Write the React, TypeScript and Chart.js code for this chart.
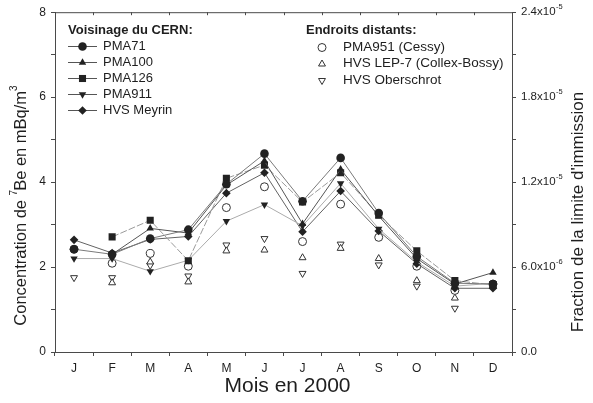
import React, { useEffect, useRef } from 'react';
import { Chart, registerables } from 'chart.js';

Chart.register(...registerables);

const FONT = "'Liberation Sans', Arial, Helvetica, sans-serif";

// ---- Data ----
const months = ['J', 'F', 'M', 'A', 'M', 'J', 'J', 'A', 'S', 'O', 'N', 'D'];

const pma71 = [2.42, 2.30, 2.67, 2.88, 3.95, 4.67, 3.55, 4.57, 3.27, 2.25, 1.62, 1.60];
const pma100 = [null, 2.30, 2.91, 2.80, 3.93, 4.50, 3.02, 4.30, 3.20, 2.20, 1.60, 1.87];
const pma126 = [null, 2.71, 3.10, 2.15, 4.09, 4.40, 3.53, 4.22, 3.22, 2.38, 1.68, 1.58];
const pma911 = [2.20, 2.20, 1.90, 2.16, 3.08, 3.47, 2.97, 3.97, 2.90, 2.12, 1.55, 1.62];
const hvsMeyrin = [2.64, 2.33, 2.65, 2.72, 3.74, 4.22, 2.83, 3.79, 2.85, 2.08, 1.50, 1.50];

const pma951 = [2.42, 2.09, 2.32, 2.02, 3.40, 3.89, 2.60, 3.48, 2.70, 2.02, 1.45, 1.60];
const hvsLep7 = [null, 1.63, 2.12, 1.65, 2.38, 2.40, 2.22, 2.44, 2.20, 1.68, 1.27, 1.55];
const hvsOberschrot = [1.75, 1.75, 2.04, 1.79, 2.52, 2.67, 1.85, 2.54, 2.05, 1.55, 1.03, 1.60];

const leftTickLabels = ['0', '', '2', '', '4', '', '6', '', '8'];
const rightTickBases = ['0.0', '', '6.0x10', '', '1.2x10', '', '1.8x10', '', '2.4x10'];
const rightTickExps = ['', '', '-6', '', '-5', '', '-5', '', '-5'];
const rightAxisMax = 2.4e-5;
const rightAxisStep = 3e-6;

const nearTitle = 'Voisinage du CERN:';
const farTitle = 'Endroits distants:';
const nearNames = ['PMA71', 'PMA100', 'PMA126', 'PMA911', 'HVS Meyrin'];
const farNames = ['PMA951 (Cessy)', 'HVS LEP-7 (Collex-Bossy)', 'HVS Oberschrot'];

const xTitle = 'Mois en 2000';
const rightTitle = "Fraction de la limite d'immission";

// ---- Styles ----
const AXIS = '#4a4a4a';
const INK = '#1e1e1e';
const MARK = '#222222';
const nearStyles = ['circle', 'triangle', 'rect', 'triangleDown', 'rectRot'];
const nearLineColors = ['#7a7a7a', '#555555', '#9a9a9a', '#ababab', '#636363'];
const nearDashes: number[][] = [[], [], [7, 2], [], []];
const farStyles = ['circle', 'triangle', 'triangleDown'];

function drawMarker(ctx: CanvasRenderingContext2D, style: string, x: number, y: number, r: number, filled: boolean) {
  ctx.beginPath();
  if (style === 'circle') {
    ctx.arc(x, y, r, 0, Math.PI * 2);
  } else if (style === 'rect') {
    const s = r * Math.SQRT1_2;
    ctx.rect(x - s, y - s, 2 * s, 2 * s);
  } else if (style === 'rectRot') {
    ctx.moveTo(x, y - r);
    ctx.lineTo(x + r, y);
    ctx.lineTo(x, y + r);
    ctx.lineTo(x - r, y);
    ctx.closePath();
  } else if (style === 'triangle' || style === 'triangleDown') {
    const dir = style === 'triangle' ? 1 : -1;
    const a = Math.PI / 2;
    for (let i = 0; i < 3; i++) {
      const ang = -a * dir + (i * 2 * Math.PI) / 3;
      const px = x + r * Math.cos(ang);
      const py = y + r * Math.sin(ang);
      if (i === 0) ctx.moveTo(px, py);
      else ctx.lineTo(px, py);
    }
    ctx.closePath();
  }
  if (filled) {
    ctx.fillStyle = MARK;
    ctx.fill();
  } else {
    ctx.fillStyle = '#ffffff';
    ctx.fill();
    ctx.strokeStyle = '#333333';
    ctx.lineWidth = 1;
    ctx.stroke();
  }
}

function drawRuns(ctx: CanvasRenderingContext2D, runs: { t: string; sup?: boolean }[], size: number, cx: number, cy: number) {
  const supSize = Math.round(size * 0.62);
  let total = 0;
  const widths = runs.map((r) => {
    ctx.font = `${r.sup ? supSize : size}px ${FONT}`;
    const w = ctx.measureText(r.t).width - (r.sup ? 1 : 0);
    total += w;
    return w;
  });
  let x = cx - total / 2;
  runs.forEach((r, i) => {
    ctx.font = `${r.sup ? supSize : size}px ${FONT}`;
    ctx.fillText(r.t, x, r.sup ? cy - size * 0.4 : cy);
    x += widths[i];
  });
}

const overlayPlugin = {
  id: 'overlay',
  afterDraw(chart: any) {
    const ctx: CanvasRenderingContext2D = chart.ctx;
    const { left, right, top } = chart.chartArea;
    ctx.save();

    // top frame line with small inward ticks
    ctx.strokeStyle = AXIS;
    ctx.lineWidth = 1;
    ctx.beginPath();
    ctx.moveTo(left, top + 0.5);
    ctx.lineTo(right, top + 0.5);
    ctx.stroke();
    const n = months.length;
    for (let i = 1; i < n; i++) {
      const px = Math.round(left + ((right - left) * i) / n) + 0.5;
      ctx.beginPath();
      ctx.moveTo(px, top);
      ctx.lineTo(px, top + 3);
      ctx.stroke();
    }

    // right tick labels with exponents
    const y1 = chart.scales.y1;
    ctx.fillStyle = INK;
    ctx.textBaseline = 'middle';
    ctx.textAlign = 'left';
    rightTickBases.forEach((base, i) => {
      if (!base) return;
      const py = y1.getPixelForValue(i * rightAxisStep);
      ctx.font = `11.5px ${FONT}`;
      const x0 = right + 9;
      ctx.fillText(base, x0, py);
      const w = ctx.measureText(base).width;
      if (rightTickExps[i]) {
        ctx.font = `7.5px ${FONT}`;
        ctx.fillText(rightTickExps[i], x0 + w + 0.5, py - 5);
      }
    });

    // x title
    ctx.font = `21px ${FONT}`;
    ctx.textAlign = 'center';
    ctx.fillText(xTitle, (left + right) / 2 + 4, 386);

    // left title (rotated)
    ctx.save();
    ctx.translate(21, 206);
    ctx.rotate(-Math.PI / 2);
    ctx.textAlign = 'left';
    drawRuns(
      ctx,
      [{ t: 'Concentration de ' }, { t: '7', sup: true }, { t: 'Be en mBq/m' }, { t: '3', sup: true }],
      16.5,
      0,
      0
    );
    ctx.restore();

    // right title (rotated)
    ctx.save();
    ctx.translate(578, 212);
    ctx.rotate(-Math.PI / 2);
    ctx.textAlign = 'center';
    ctx.font = `17px ${FONT}`;
    ctx.fillText(rightTitle, 0, 0);
    ctx.restore();

    // legends
    ctx.textAlign = 'left';
    ctx.textBaseline = 'middle';
    ctx.font = `bold 13px ${FONT}`;
    ctx.fillStyle = INK;
    ctx.fillText(nearTitle, 68, 30);
    const nearY = [46, 62, 78, 94, 110];
    nearNames.forEach((name, i) => {
      const y = nearY[i];
      ctx.strokeStyle = '#555555';
      ctx.lineWidth = 1;
      ctx.setLineDash([]);
      ctx.beginPath();
      ctx.moveTo(68, y + 0.5);
      ctx.lineTo(97, y + 0.5);
      ctx.stroke();
      drawMarker(ctx, nearStyles[i], 82.5, y + 0.5, nearStyles[i] === 'rect' ? 5 : 4.3, true);
      ctx.fillStyle = INK;
      ctx.font = `13px ${FONT}`;
      ctx.fillText(name, 103, y);
    });

    ctx.font = `bold 13px ${FONT}`;
    ctx.fillStyle = INK;
    ctx.fillText(farTitle, 306, 30);
    const farY = [47, 63.5, 80];
    farNames.forEach((name, i) => {
      const y = farY[i];
      drawMarker(ctx, farStyles[i], 322, y + 0.5, 4, false);
      ctx.fillStyle = INK;
      ctx.font = `13.5px ${FONT}`;
      ctx.fillText(name, 343, y);
    });

    ctx.restore();
  },
};

export default function App() {
  const ref = useRef<HTMLCanvasElement | null>(null);

  useEffect(() => {
    if (!ref.current) return;
    Chart.defaults.font.family = FONT;

    const nearData = [pma71, pma100, pma126, pma911, hvsMeyrin];
    const farData = [pma951, hvsLep7, hvsOberschrot];

    const nearSets = nearData.map((d, i) => ({
      label: nearNames[i],
      data: d,
      yAxisID: 'y',
      borderColor: nearLineColors[i],
      borderWidth: 1,
      borderDash: nearDashes[i],
      backgroundColor: MARK,
      pointBackgroundColor: MARK,
      pointBorderColor: MARK,
      pointBorderWidth: 0,
      pointStyle: nearStyles[i] === 'triangleDown' ? 'triangle' : nearStyles[i],
      pointRotation: nearStyles[i] === 'triangleDown' ? 180 : 0,
      pointRadius: nearStyles[i] === 'rect' ? 5 : 4.3,
      showLine: true,
      spanGaps: false,
      tension: 0,
      fill: false,
    }));

    const farSets = farData.map((d, i) => ({
      label: farNames[i],
      data: d,
      yAxisID: 'y',
      showLine: false,
      borderColor: '#333333',
      backgroundColor: '#ffffff',
      pointBackgroundColor: '#ffffff',
      pointBorderColor: '#333333',
      pointBorderWidth: 1,
      pointStyle: farStyles[i] === 'triangleDown' ? 'triangle' : farStyles[i],
      pointRotation: farStyles[i] === 'triangleDown' ? 180 : 0,
      pointRadius: 4,
    }));

    const chart = new Chart(ref.current, {
      type: 'line',
      data: {
        labels: months,
        datasets: [...nearSets, ...farSets] as any,
      },
      options: {
        responsive: false,
        animation: false,
        devicePixelRatio: 1,
        layout: { padding: { top: 12, left: 0, right: 0, bottom: 0 } },
        plugins: {
          legend: { display: false },
          tooltip: { enabled: false },
          title: { display: false },
        },
        scales: {
          x: {
            type: 'category',
            offset: true,
            grid: {
              offset: true,
              drawOnChartArea: false,
              drawTicks: true,
              tickLength: 4,
              color: AXIS,
            },
            border: { color: AXIS, width: 1 },
            ticks: {
              color: INK,
              font: { size: 12, family: FONT },
              padding: 5,
              autoSkip: false,
              maxRotation: 0,
              minRotation: 0,
            },
            afterFit: (s: any) => {
              s.height = 51;
            },
          },
          y: {
            type: 'linear',
            position: 'left',
            min: 0,
            max: 8,
            grid: {
              drawOnChartArea: false,
              drawTicks: true,
              tickLength: 4,
              color: AXIS,
            },
            border: { color: AXIS, width: 1 },
            ticks: {
              stepSize: 1,
              color: INK,
              font: { size: 12, family: FONT },
              padding: 5,
              callback: (_v: any, i: number) => leftTickLabels[i] ?? '',
            },
            afterFit: (s: any) => {
              s.width = 55;
            },
          },
          y1: {
            type: 'linear',
            position: 'right',
            min: 0,
            max: rightAxisMax,
            grid: {
              drawOnChartArea: false,
              drawTicks: true,
              tickLength: 4,
              color: AXIS,
            },
            border: { color: AXIS, width: 1 },
            ticks: {
              stepSize: rightAxisStep,
              display: false,
            },
            afterFit: (s: any) => {
              s.width = 81;
            },
          },
        },
      } as any,
      plugins: [overlayPlugin],
    });

    return () => chart.destroy();
  }, []);

  return (
    <div style={{ position: 'absolute', left: 0, top: 0, width: 593, height: 403, background: '#ffffff' }}>
      <canvas ref={ref} width={593} height={403} style={{ display: 'block' }} />
    </div>
  );
}
